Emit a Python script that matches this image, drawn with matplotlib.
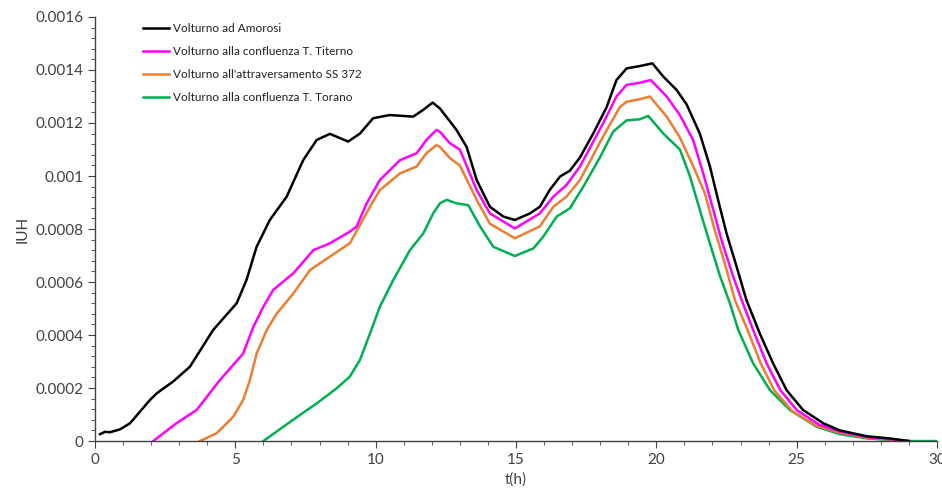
import matplotlib
matplotlib.use("Agg")
import matplotlib.pyplot as plt
from matplotlib.ticker import MultipleLocator, FuncFormatter

plt.rcParams['font.family'] = ['Lato', 'DejaVu Sans']

# Volturno ad Amorosi (black)
t_amorosi = [0.18, 0.36, 0.53, 0.89, 1.25, 1.96, 2.2, 2.79, 3.38, 4.21, 5.05, 5.4, 5.76, 6.23, 6.83,
             7.42, 7.9, 8.37, 9.02, 9.44, 9.91, 10.5, 11.34, 11.7, 12.03, 12.29, 12.88, 13.24, 13.6,
             14.07, 14.55, 14.96, 15.5, 15.85, 16.2, 16.57, 16.92, 17.28, 17.75, 18.23, 18.58, 18.94,
             19.42, 19.86, 20.25, 20.72, 21.08, 21.55, 21.91, 22.2, 22.5, 22.86, 23.21, 23.69, 24.16,
             24.64, 25.23, 25.95, 26.54, 27.5, 28.3, 29.0]
y_amorosi = [0.000026, 0.000035, 0.000033, 0.000044, 0.000067, 0.000155, 0.00018, 0.000225, 0.00028,
             0.000419, 0.00052, 0.000608, 0.000733, 0.000834, 0.000922, 0.00106, 0.001136, 0.001159,
             0.00113, 0.00116, 0.001218, 0.00123, 0.001224, 0.00125, 0.001277, 0.001255, 0.001174,
             0.00111, 0.000985, 0.000884, 0.000847, 0.000834, 0.000859, 0.000884, 0.000947, 0.000998,
             0.00102, 0.00107, 0.00116, 0.00126, 0.001362, 0.001406, 0.001415, 0.001425, 0.001375,
             0.001325, 0.00127, 0.00116, 0.001036, 0.00091, 0.000784, 0.000658, 0.000532, 0.000405,
             0.000293, 0.000192, 0.000117, 0.000067, 0.00004, 0.000018, 0.00001, 0.0]

# Volturno alla confluenza T. Titerno (magenta)
t_titerno = [2.08, 2.9, 3.62, 4.45, 5.28, 5.64, 6.0, 6.35, 7.07, 7.78, 8.37, 9.08, 9.32, 9.68, 10.15,
             10.87, 11.46, 11.81, 12.17, 12.29, 12.65, 13.0, 13.6, 14.07, 14.96, 15.85, 16.33, 16.8,
             17.28, 18.11, 18.58, 18.94, 19.42, 19.8, 20.37, 20.84, 21.31, 21.67, 22.03, 22.32, 22.74,
             23.04, 23.45, 23.93, 24.42, 25.0, 25.8, 26.54, 27.5, 28.3, 29.0]
y_titerno = [0.0, 0.000067, 0.000117, 0.00023, 0.00033, 0.00043, 0.000507, 0.00057, 0.000633, 0.00072,
             0.000746, 0.00079, 0.000809, 0.000897, 0.000985, 0.00106, 0.001086, 0.001136, 0.001174,
             0.001167, 0.001123, 0.0011, 0.000947, 0.000859, 0.000802, 0.000859, 0.000922, 0.000966,
             0.001036, 0.0012, 0.0013, 0.001344, 0.001352, 0.001362, 0.0013, 0.00123, 0.001136,
             0.00101, 0.000872, 0.000759, 0.00062, 0.000532, 0.000419, 0.000293, 0.000192, 0.000117,
             0.000062, 0.000036, 0.000015, 0.000008, 0.0]

# Volturno all'attraversamento SS 372 (orange)
t_ss372 = [3.74, 4.33, 4.93, 5.28, 5.52, 5.76, 6.12, 6.47, 7.07, 7.66, 8.37, 9.08, 9.8, 10.15, 10.87,
           11.46, 11.81, 12.17, 12.29, 12.65, 13.0, 13.6, 14.07, 14.96, 15.85, 16.33, 16.8, 17.28,
           18.11, 18.7, 18.94, 19.42, 19.77, 20.37, 20.84, 21.3, 21.73, 22.08, 22.44, 22.8, 23.25,
           23.72, 24.2, 24.85, 25.7, 26.54, 27.5, 28.3, 29.0]
y_ss372 = [0.0, 0.000029, 0.000092, 0.000155, 0.00023, 0.00033, 0.000419, 0.00048, 0.000557, 0.000645,
           0.000696, 0.000746, 0.000884, 0.000947, 0.00101, 0.001036, 0.001086, 0.001117, 0.00111,
           0.001067, 0.00104, 0.00091, 0.00082, 0.000765, 0.00081, 0.000884, 0.000922, 0.000985,
           0.00115, 0.00126, 0.00128, 0.00129, 0.0013, 0.001224, 0.001145, 0.00104, 0.000935,
           0.000796, 0.00067, 0.000532, 0.000419, 0.000293, 0.000192, 0.000112, 0.000058, 0.000032,
           0.000013, 0.000006, 0.0]

# Volturno alla confluenza T. Torano (green)
t_torano = [6.0, 6.71, 7.3, 7.9, 8.61, 9.08, 9.44, 9.8, 10.15, 10.63, 11.22, 11.7, 12.05, 12.29, 12.53,
            12.88, 13.3, 13.72, 14.19, 14.96, 15.62, 15.97, 16.45, 16.92, 17.4, 17.99, 18.46, 18.94,
            19.42, 19.71, 20.25, 20.84, 21.2, 21.55, 21.91, 22.26, 22.62, 22.92, 23.45, 24.05, 24.76,
            25.71, 26.54, 27.5, 28.5, 29.0, 30.0]
y_torano = [0.0, 0.000054, 0.000098, 0.000142, 0.000199, 0.000243, 0.000306, 0.000406, 0.000507,
            0.000608, 0.00072, 0.000784, 0.000859, 0.000897, 0.00091, 0.000897, 0.00089, 0.00081,
            0.000733, 0.000698, 0.000727, 0.000771, 0.000847, 0.000878, 0.00096, 0.00107, 0.001167,
            0.00121, 0.001214, 0.001227, 0.00116, 0.0011, 0.000998, 0.000872, 0.000745, 0.000625,
            0.00052, 0.000419, 0.000293, 0.000192, 0.000117, 0.000054, 0.000026, 0.00001, 0.000003,
            0.0, 0.0]

labels = ["Volturno ad Amorosi", "Volturno alla confluenza T. Titerno",
          "Volturno all'attraversamento SS 372", "Volturno alla confluenza T. Torano"]
colors = ["#000000", "#FF00FF", "#ED7D31", "#00B050"]

fig = plt.figure(figsize=(9.42, 4.95), dpi=100)
ax = fig.add_axes([0.1008, 0.109, 0.8939, 0.8567])

series = [(t_amorosi, y_amorosi), (t_titerno, y_titerno), (t_ss372, y_ss372), (t_torano, y_torano)]
# draw order: green, orange, magenta, black on top
for i in [3, 2, 1, 0]:
    t, y = series[i]
    ax.plot(t, y, color=colors[i], lw=1.8, label=labels[i], solid_joinstyle="round")

ax.set_xlim(0, 30)
ax.set_ylim(0, 0.0016)
ax.xaxis.set_major_locator(MultipleLocator(5))
ax.xaxis.set_minor_locator(MultipleLocator(1))
ax.yaxis.set_major_locator(MultipleLocator(0.0002))
ax.yaxis.set_minor_locator(MultipleLocator(0.00004))
ax.yaxis.set_major_formatter(FuncFormatter(lambda v, p: "0" if v == 0 else f"{v:g}"))

for s in ["top", "right"]:
    ax.spines[s].set_visible(False)
for s in ["left", "bottom"]:
    ax.spines[s].set_color("#404040")
    ax.spines[s].set_linewidth(1.0)

ax.tick_params(axis="both", which="major", direction="out", length=5, color="#404040",
               labelsize=11, labelcolor="#404040")
ax.tick_params(axis="both", which="minor", direction="out", length=3, color="#404040")

ax.set_xlabel("t(h)", fontsize=11, color="#404040")
ax.set_ylabel("IUH", fontsize=11, color="#404040")

handles, labs = ax.get_legend_handles_labels()
order = [labs.index(l) for l in labels]
ax.legend([handles[i] for i in order], [labs[i] for i in order],
          loc="upper left", bbox_to_anchor=(0.045, 1.01), frameon=False,
          fontsize=8.5, handlelength=2.2, handletextpad=0.3, labelspacing=1.0,
          labelcolor="#202020")

fig.savefig("out.png", dpi=100)
